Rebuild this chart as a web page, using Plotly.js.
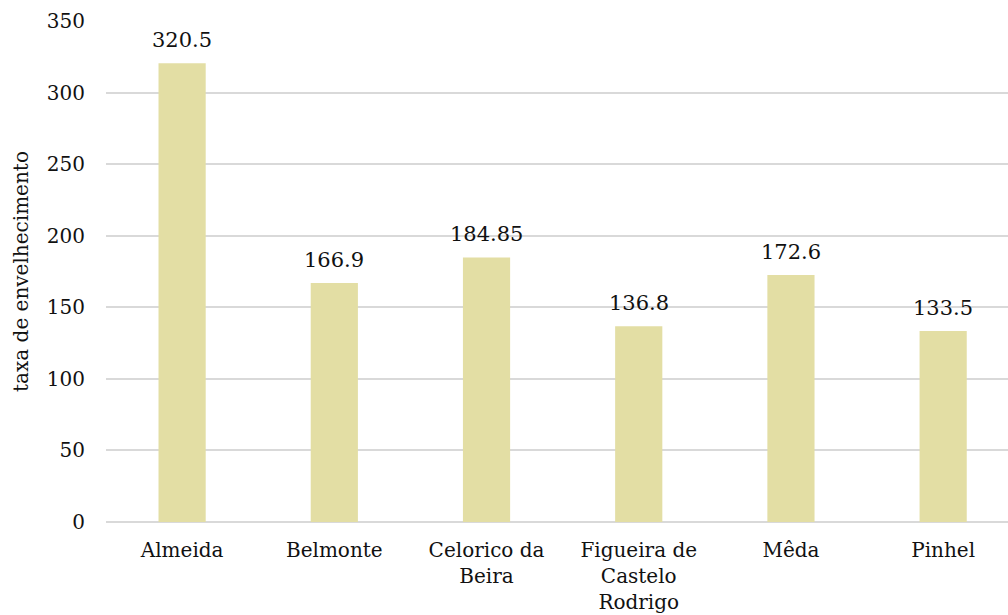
<!DOCTYPE html>
<html>
<head>
<meta charset="utf-8">
<script src="https://cdn.plot.ly/plotly-3.0.1.min.js"></script>
<style>html,body{margin:0;padding:0;background:#fff;}#chart{width:1008px;height:615px;}</style>
</head>
<body>
<div id="chart"></div>
<script>
const categories = ["Almeida", "Belmonte", "Celorico da<br>Beira", "Figueira de<br>Castelo<br>Rodrigo", "Mêda", "Pinhel"];
const values = [320.5, 166.9, 184.85, 136.8, 172.6, 133.5];
const valueLabels = ["320.5", "166.9", "184.85", "136.8", "172.6", "133.5"];
const yTicks = [0, 50, 100, 150, 200, 250, 300, 350];

const fontFam = "'DejaVu Serif', 'Liberation Serif', serif";

const annotations = categories.map((c, i) => ({
  x: c, y: values[i], xref: "x", yref: "y",
  text: valueLabels[i], showarrow: false,
  yanchor: "bottom", yshift: 9,
  font: {family: fontFam, size: 21, color: "#111"}
}));

Plotly.newPlot("chart", [{
  type: "bar",
  x: categories,
  y: values,
  marker: {color: "#e3dea4"},
  hoverinfo: "none"
}], {
  width: 1008, height: 615,
  margin: {l: 106, r: 0, t: 21, b: 93},
  paper_bgcolor: "#fff", plot_bgcolor: "#fff",
  bargap: 0.69,
  showlegend: false,
  annotations: annotations,
  font: {family: fontFam, size: 20, color: "#111"},
  xaxis: {
    type: "category",
    range: [-0.5, 5.426],
    showgrid: false,
    showline: false,
    ticks: "",
    tickfont: {family: fontFam, size: 20, color: "#111"},
    ticklabelstandoff: 14
  },
  yaxis: {
    range: [0, 350],
    tickvals: yTicks,
    ticktext: yTicks.map(String),
    showgrid: true,
    gridcolor: "#d9d9d9",
    gridwidth: 2,
    zeroline: true,
    zerolinecolor: "#d9d9d9",
    zerolinewidth: 2,
    showline: false,
    ticks: "",
    ticklabelstandoff: 20,
    tickfont: {family: fontFam, size: 20, color: "#111"},
    title: {text: "taxa de envelhecimento", font: {family: fontFam, size: 20, color: "#111"}, standoff: 12}
  }
}, {displayModeBar: false, staticPlot: true});
</script>
</body>
</html>
